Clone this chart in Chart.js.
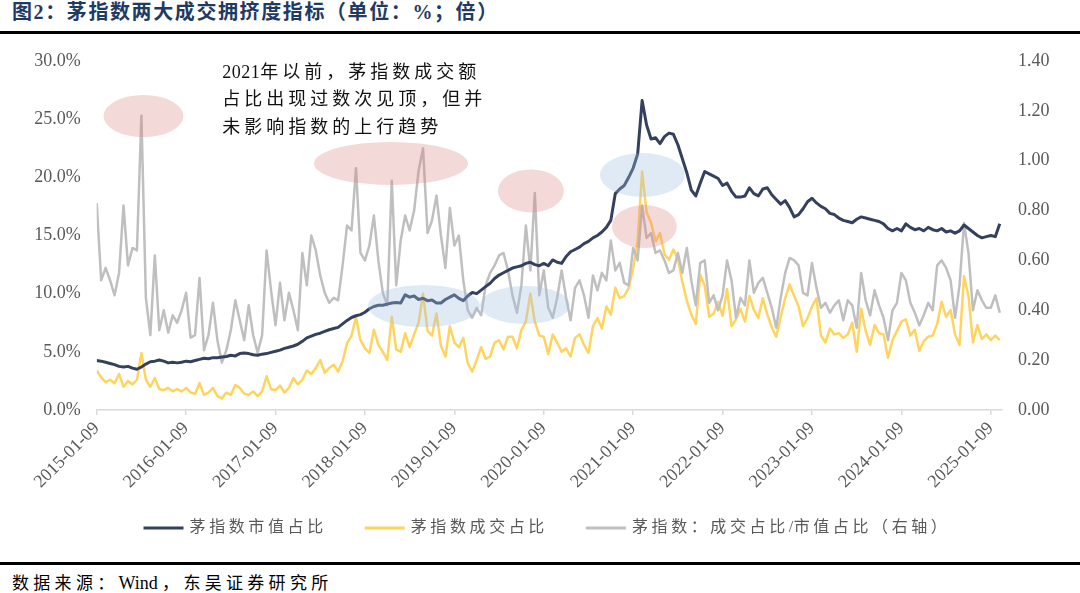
<!DOCTYPE html>
<html>
<head>
<meta charset="utf-8">
<script src="https://cdn.jsdelivr.net/npm/chart.js@4.4.1/dist/chart.umd.min.js"></script>
<style>
html, body { margin: 0; padding: 0; background: #fff; }
body { width: 1080px; height: 593px; position: relative; overflow: hidden; font-family: "Liberation Serif", "Noto Sans CJK SC", serif; }
#title { position: absolute; left: 12px; top: 0; line-height: 24px; font-size: 20px; font-weight: bold; color: #1f3a63; letter-spacing: 1.6px; white-space: nowrap; }
.rule { position: absolute; left: 0; width: 1080px; height: 3px; background: #000; }
#chartBox { position: absolute; left: 0; top: 34px; width: 1080px; height: 528px; }
#source { position: absolute; left: 12px; top: 573px; line-height: 20px; font-size: 17px; color: #000; letter-spacing: 4.3px; white-space: nowrap; }
#source .latin { letter-spacing: 0; margin-right: 4.3px; font-size: 18px; }
</style>
</head>
<body>
<div id="title">图2：茅指数两大成交拥挤度指标（单位：%；倍）</div>
<div class="rule" style="top:31px"></div>
<div id="chartBox"><canvas id="c" width="1080" height="528"></canvas></div>
<div class="rule" style="top:562px"></div>
<div id="source">数据来源：<span class="latin">Wind</span>，东吴证券研究所</div>
<script>
// x position of every sample, in years after 2015-01-09 (one sample every 0.05 year)
const stepYears = 0.05;

const tickYears = [0, 1, 2, 3, 4, 5, 6, 7, 8, 9, 10];
const tickLabels = ['2015-01-09', '2016-01-09', '2017-01-09', '2018-01-09', '2019-01-09', '2020-01-09',
    '2021-01-09', '2022-01-09', '2023-01-09', '2024-01-09', '2025-01-09'];

const seriesNames = ['茅指数市值占比', '茅指数成交占比', '茅指数：成交占比/市值占比（右轴）'];

// 茅指数市值占比 (%)
const capShare = [
    4.25, 4.2, 4.1, 4.0, 3.9, 3.75, 3.7, 3.75, 3.6, 3.5,
    3.7, 3.95, 4.15, 4.2, 4.3, 4.2, 4.05, 4.1, 4.05, 4.1,
    4.2, 4.15, 4.25, 4.35, 4.45, 4.4, 4.5, 4.5, 4.55, 4.6,
    4.7, 4.65, 4.85, 4.9, 4.85, 4.75, 4.7, 4.8, 4.85, 4.95,
    5.05, 5.15, 5.3, 5.4, 5.5, 5.65, 5.9, 6.2, 6.35, 6.5,
    6.6, 6.75, 6.9, 7.0, 7.1, 7.4, 7.7, 7.95, 8.1, 8.2,
    8.4, 8.7, 8.9, 9.0, 9.0, 9.1, 9.2, 9.25, 9.2, 9.9,
    9.7, 9.8, 9.5, 9.6, 9.4, 9.45, 9.2, 9.2, 9.5, 9.7,
    9.9, 9.6, 9.4, 9.8, 10.1, 10.0, 10.3, 10.6, 10.9, 11.3,
    11.6, 11.8, 12.0, 12.2, 12.3, 12.4, 12.6, 12.7, 12.5, 12.4,
    12.6, 12.4, 12.9, 12.7, 12.6, 13.2, 13.6, 13.8, 14.0, 14.3,
    14.5, 14.8, 15.0, 15.3, 15.7, 16.3, 18.6, 19.0, 19.3, 20.0,
    20.8, 22.0, 26.6, 24.5, 23.3, 23.4, 22.9, 23.5, 23.8, 23.7,
    22.8, 21.6, 20.4, 18.9, 18.4, 19.5, 20.5, 20.3, 20.1, 19.9,
    19.3, 19.5, 18.8, 18.3, 18.3, 18.4, 19.1, 18.6, 18.4, 19.0,
    19.1, 18.5, 18.1, 17.7, 18.0, 17.4, 16.6, 16.8, 17.3, 17.9,
    18.2, 17.8, 17.5, 17.3, 16.9, 16.8, 16.5, 16.3, 16.2, 16.1,
    16.4, 16.6, 16.5, 16.4, 16.3, 16.2, 16.0, 15.6, 15.4, 15.6,
    15.4, 16.0, 15.7, 15.5, 15.6, 15.4, 15.7, 15.5, 15.4, 15.6,
    15.3, 15.4, 15.2, 15.4, 15.9, 15.6, 15.3, 15.0, 14.8, 14.9,
    15.0, 14.9, 16.0
];

// 茅指数成交占比 (%)
const turnoverShare = [
    3.4, 2.8, 2.4, 2.6, 2.3, 3.1, 2.0, 2.5, 2.2, 2.6,
    4.9, 2.6, 2.0, 2.75, 1.8, 1.7, 1.9, 1.6, 1.8, 1.6,
    1.9, 1.5, 1.4, 2.3, 1.3, 1.5, 1.9, 1.2, 1.0, 1.5,
    1.3, 2.15, 1.9, 1.4, 1.3, 1.6, 1.2, 1.6, 2.9, 1.8,
    1.7, 2.1, 1.5, 1.9, 2.75, 2.2, 2.6, 3.4, 3.1, 3.6,
    4.3, 3.2, 3.6, 3.9, 3.3, 4.2, 5.75, 6.4, 8.0, 6.0,
    5.3, 4.9, 6.9, 5.6, 5.0, 4.3, 8.0, 5.2, 5.0, 6.6,
    5.4, 6.5, 7.5, 10.0, 6.8, 6.4, 8.3, 5.5, 4.6, 7.2,
    5.8, 5.4, 6.2, 4.0, 3.3, 4.3, 5.4, 4.4, 4.6, 5.8,
    6.0, 5.2, 6.3, 6.3, 5.3, 6.9, 7.6, 10.0, 7.6, 6.4,
    6.3, 4.8, 6.5, 5.8, 5.0, 5.3, 4.6, 6.2, 6.5, 5.6,
    4.9, 7.2, 7.9, 7.0, 8.9, 8.2, 10.5, 9.6, 9.8, 10.5,
    12.2, 14.5, 20.5, 17.0, 16.1, 14.5, 15.2, 13.4, 12.9, 13.8,
    13.0, 11.0, 9.4, 8.2, 7.4, 11.6, 10.7, 8.0, 8.3, 9.3,
    8.1, 10.4, 7.2, 7.8, 8.7, 7.6, 9.8, 8.6, 7.9, 9.6,
    8.2, 7.1, 6.3, 8.0, 9.6, 10.8, 9.8, 8.9, 7.2, 7.9,
    8.9, 9.6, 6.4, 5.8, 7.0, 6.5, 6.6, 6.2, 6.5, 7.5,
    5.0, 8.7, 6.8, 5.6, 7.3, 6.6, 6.5, 4.5, 6.0, 6.8,
    7.6, 7.8, 6.4, 6.9, 5.1, 5.9, 6.3, 6.4, 7.4, 9.3,
    8.0, 8.6, 6.5, 5.6, 11.5, 9.8, 5.8, 7.3, 6.1, 6.5,
    6.0, 6.4, 6.0
];

// 成交占比/市值占比 (倍, right axis)
const crowdRatio = [
    0.83, 0.52, 0.57, 0.52, 0.46, 0.55, 0.82, 0.58, 0.65, 0.64,
    1.18, 0.45, 0.30, 0.62, 0.32, 0.40, 0.31, 0.38, 0.35, 0.40,
    0.47, 0.29, 0.30, 0.53, 0.24, 0.30, 0.43, 0.28, 0.19, 0.24,
    0.32, 0.44, 0.36, 0.28, 0.42, 0.30, 0.23, 0.30, 0.64, 0.48,
    0.34, 0.51, 0.36, 0.47, 0.40, 0.32, 0.63, 0.50, 0.70, 0.64,
    0.54, 0.47, 0.43, 0.45, 0.44, 0.58, 0.74, 0.72, 0.97, 0.63,
    0.60, 0.66, 0.78, 0.60, 0.47, 0.42, 0.92, 0.50, 0.68, 0.78,
    0.72, 0.80, 0.96, 1.05, 0.71, 0.76, 0.86, 0.70, 0.57, 0.81,
    0.66, 0.70, 0.52, 0.40, 0.37, 0.41, 0.38, 0.50, 0.55, 0.58,
    0.62, 0.63, 0.56, 0.46, 0.39, 0.50, 0.74, 0.56, 0.87, 0.46,
    0.56, 0.41, 0.37, 0.45, 0.56, 0.45, 0.36, 0.49, 0.52, 0.46,
    0.37, 0.54, 0.48, 0.55, 0.52, 0.68, 0.56, 0.59, 0.51, 0.50,
    0.65, 0.60, 0.82, 0.69, 0.71, 0.63, 0.64, 0.60, 0.55, 0.56,
    0.63, 0.55, 0.65, 0.52, 0.42, 0.59, 0.60, 0.43, 0.46, 0.40,
    0.46, 0.60, 0.52, 0.37, 0.45, 0.42, 0.60, 0.47, 0.51, 0.53,
    0.47, 0.41, 0.33, 0.45, 0.55, 0.61, 0.60, 0.58, 0.47, 0.46,
    0.59, 0.49, 0.41, 0.43, 0.39, 0.42, 0.44, 0.36, 0.44, 0.42,
    0.33, 0.55, 0.44, 0.38, 0.48, 0.42, 0.37, 0.28, 0.40, 0.43,
    0.55, 0.52, 0.43, 0.39, 0.34, 0.38, 0.43, 0.40, 0.58, 0.60,
    0.57, 0.52, 0.37, 0.50, 0.75, 0.63, 0.40, 0.48, 0.44, 0.41,
    0.41, 0.46, 0.39
];

// highlight ellipses: centre (years, left-axis %) and radii in the same units
const highlights = [
    { x: 0.523, y: 25.27, rx: 0.447, ry: 1.81, kind: 'pink' },
    { x: 3.291, y: 21.19, rx: 0.861, ry: 1.85, kind: 'pink' },
    { x: 4.856, y: 18.83, rx: 0.369, ry: 1.85, kind: 'pink' },
    { x: 6.103, y: 20.20, rx: 0.475, ry: 1.89, kind: 'blue' },
    { x: 6.125, y: 15.77, rx: 0.363, ry: 1.85, kind: 'pink' },
    { x: 3.660, y: 8.94, rx: 0.626, ry: 1.81, kind: 'blue' },
    { x: 4.789, y: 9.03, rx: 0.503, ry: 1.63, kind: 'blue' }
];
const noteLines = ['2021年以前，茅指数成交额', '占比出现过数次见顶，但并', '未影响指数的上行趋势'];
const noteAt = { x: 1.403, y: 28.97 };

const serif = '"Liberation Serif", "Times New Roman", "Noto Sans CJK SC", serif';
const fillColors = { pink: 'rgba(220,130,130,0.30)', blue: 'rgba(160,190,225,0.33)' };

function toPoints(values) {
    return values.map((v, i) => ({ x: i * stepYears, y: v }));
}

// CJK glyphs get extra spacing, latin glyphs keep their natural advance
function advance(ctx, ch, gap) {
    return ctx.measureText(ch).width + (ch.charCodeAt(0) > 255 ? gap : 0.5);
}
function spacedText(ctx, text, x, y, gap) {
    let cx = x;
    for (const ch of text) {
        ctx.fillText(ch, cx, y);
        cx += advance(ctx, ch, gap);
    }
    return cx - x;
}
function spacedWidth(ctx, text, gap) {
    let w = 0;
    for (const ch of text) w += advance(ctx, ch, gap);
    return w;
}

const ellipsePlugin = {
    id: 'ellipses',
    afterDatasetsDraw(chart) {
        const { ctx, scales: { x, y } } = chart;
        ctx.save();
        highlights.forEach(h => {
            const cx = x.getPixelForValue(h.x), cy = y.getPixelForValue(h.y);
            const rx = x.getPixelForValue(h.x + h.rx) - cx;
            const ry = cy - y.getPixelForValue(h.y + h.ry);
            ctx.beginPath();
            ctx.ellipse(cx, cy, rx, ry, 0, 0, Math.PI * 2);
            ctx.fillStyle = fillColors[h.kind];
            ctx.fill();
        });
        ctx.restore();
    }
};

const notePlugin = {
    id: 'note',
    afterDraw(chart) {
        const { ctx, scales: { x, y } } = chart;
        const left = x.getPixelForValue(noteAt.x), top = y.getPixelForValue(noteAt.y);
        ctx.save();
        ctx.font = '18px ' + serif;
        ctx.fillStyle = '#111';
        ctx.textBaseline = 'middle';
        noteLines.forEach((line, i) => spacedText(ctx, line, left, top + i * 27.5, 4));
        ctx.restore();
    }
};

const legendPlugin = {
    id: 'legendRow',
    afterDraw(chart) {
        const ctx = chart.ctx;
        ctx.save();
        ctx.font = '16px ' + serif;
        ctx.textBaseline = 'middle';
        const gap = 3.6, lineLen = 40, pad = 6, between = 38;
        const items = chart.data.datasets.map(d => ({ text: d.label, color: d.borderColor, w: spacedWidth(ctx, d.label, gap) }));
        const total = items.reduce((s, it) => s + lineLen + pad + it.w, 0) + between * (items.length - 1);
        let x = chart.width / 2 + 7 - total / 2;
        const y = 494;
        items.forEach(it => {
            ctx.strokeStyle = it.color;
            ctx.lineWidth = 3;
            ctx.beginPath();
            ctx.moveTo(x, y);
            ctx.lineTo(x + lineLen, y);
            ctx.stroke();
            ctx.fillStyle = '#595959';
            spacedText(ctx, it.text, x + lineLen + pad, y, gap);
            x += lineLen + pad + it.w + between;
        });
        ctx.restore();
    }
};

new Chart(document.getElementById('c'), {
    type: 'line',
    data: {
        datasets: [
            { label: seriesNames[0], data: toPoints(capShare), borderColor: '#34405d', borderWidth: 3, yAxisID: 'y', order: 0 },
            { label: seriesNames[1], data: toPoints(turnoverShare), borderColor: '#ffd45e', borderWidth: 2.5, yAxisID: 'y', order: 2 },
            { label: seriesNames[2], data: toPoints(crowdRatio), borderColor: '#bfbfbf', borderWidth: 2.5, yAxisID: 'y1', order: 1 }
        ]
    },
    options: {
        responsive: false,
        animation: false,
        layout: { padding: { top: 27, left: 0, right: 0, bottom: 0 } },
        elements: { point: { radius: 0 }, line: { tension: 0, borderJoinStyle: 'round' } },
        plugins: { legend: { display: false }, tooltip: { enabled: false } },
        scales: {
            x: {
                type: 'linear', min: 0, max: 10.125,
                afterBuildTicks: s => { s.ticks = tickYears.map(v => ({ value: v })); },
                afterFit: s => { s.height = 152; },
                ticks: {
                    autoSkip: false, minRotation: 45, maxRotation: 45, padding: 3,
                    color: '#595959', font: { family: serif, size: 18 },
                    callback: (v, i) => tickLabels[i]
                },
                grid: { drawOnChartArea: false, drawTicks: true, tickLength: 5, color: '#d9d9d9', lineWidth: 1.5 },
                border: { display: true, color: '#d9d9d9', width: 1.5 }
            },
            y: {
                position: 'left', min: 0, max: 30,
                afterFit: s => { s.width = 96.7; },
                ticks: { stepSize: 5, padding: 16, color: '#595959', font: { family: serif, size: 18 }, callback: v => v.toFixed(1) + '%' },
                grid: { display: false, drawTicks: false },
                border: { display: false }
            },
            y1: {
                position: 'right', min: 0, max: 1.4,
                afterFit: s => { s.width = 78; },
                ticks: { stepSize: 0.2, padding: 16, color: '#595959', font: { family: serif, size: 18 }, callback: v => v.toFixed(2) },
                grid: { display: false, drawTicks: false },
                border: { display: false }
            }
        }
    },
    plugins: [ellipsePlugin, notePlugin, legendPlugin]
});
</script>
</body>
</html>
